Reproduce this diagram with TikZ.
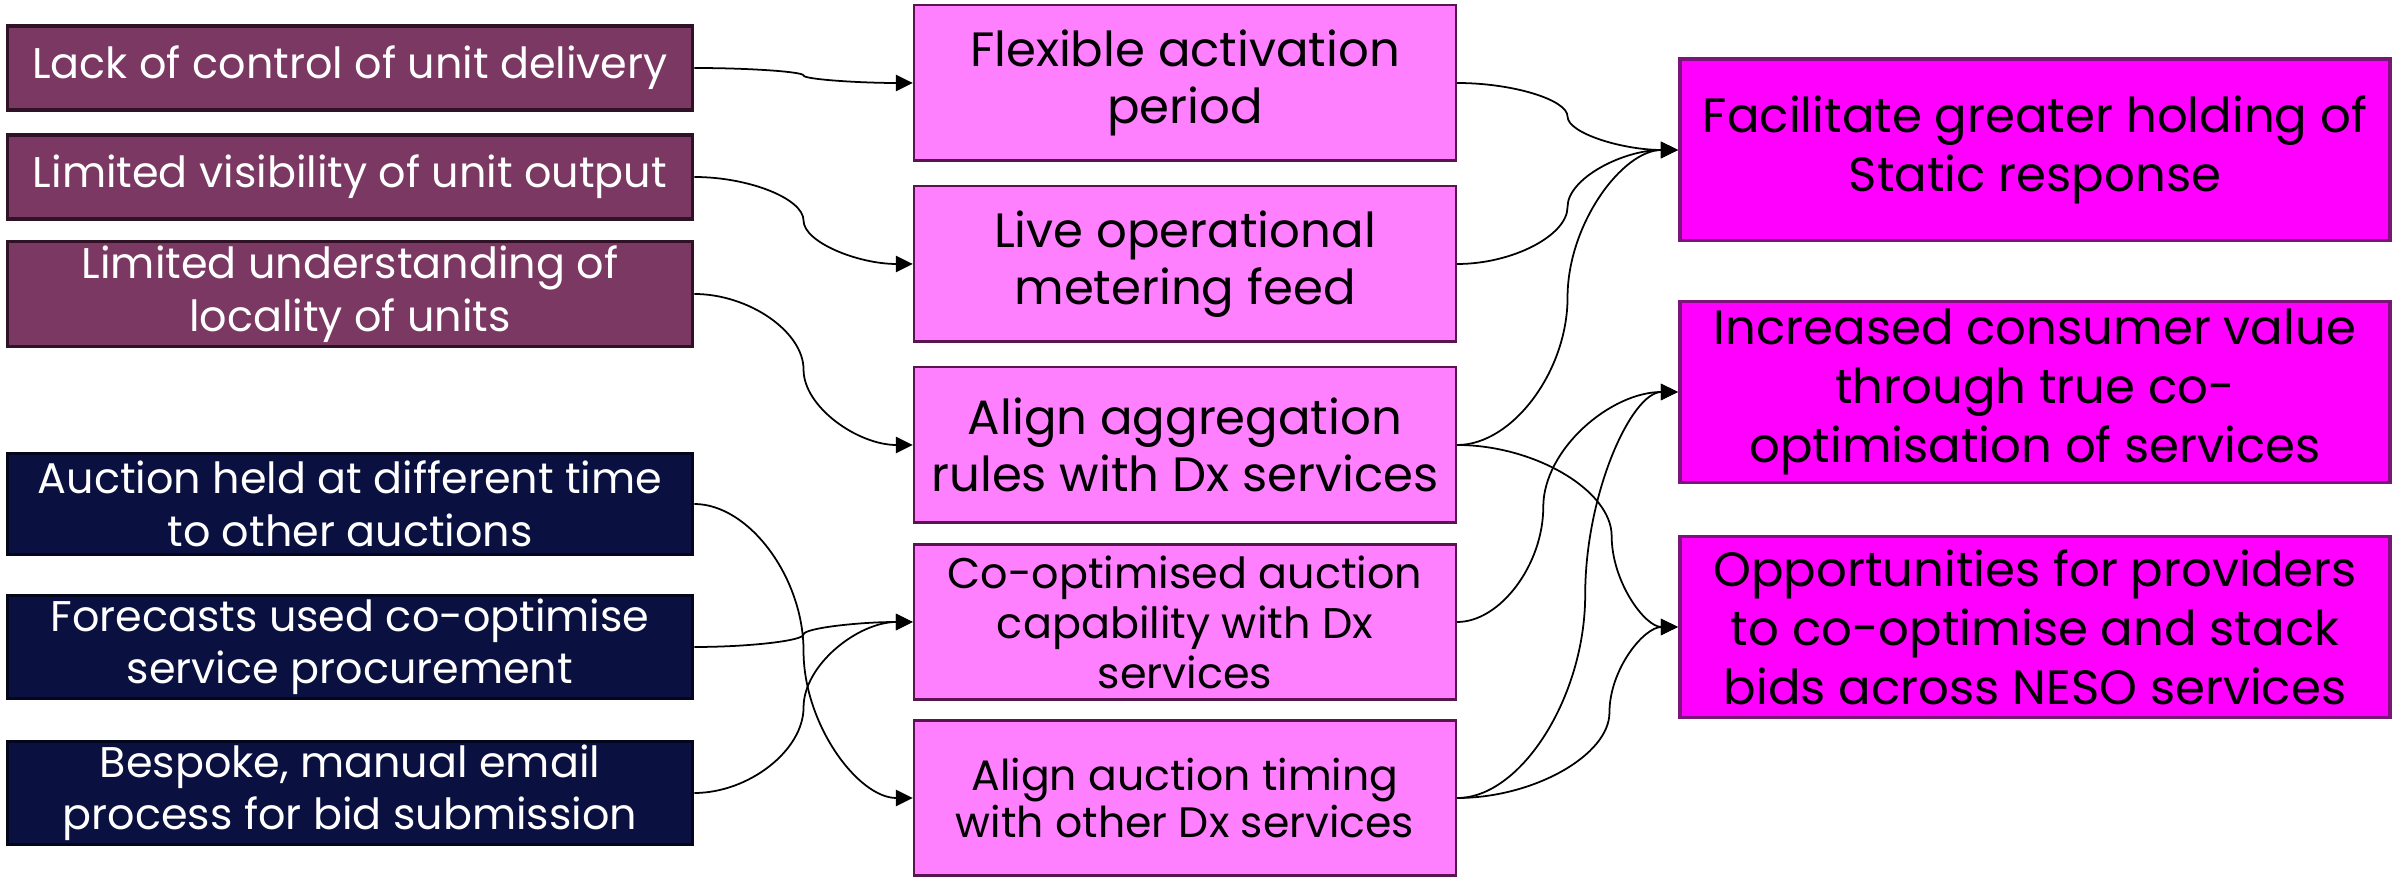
\documentclass[tikz,border=0pt]{standalone}
\usepackage{fontspec}
\setmainfont{Poppins}
\usetikzlibrary{arrows.meta,calc}

\definecolor{plum}{RGB}{123,56,98}
\definecolor{plumedge}{RGB}{48,18,38}
\definecolor{inkblue}{RGB}{10,16,64}
\definecolor{inkedge}{RGB}{4,6,28}
\definecolor{pinkbox}{RGB}{255,128,255}
\definecolor{pinkedge}{RGB}{90,20,80}
\definecolor{magbox}{RGB}{255,0,255}
\definecolor{magedge}{RGB}{122,22,122}

\tikzset{
  issue/.style={draw=#1, line width=0.9pt, text=white, align=center, inner sep=1pt,
    minimum width=6.85cm, font=\fontsize{12.2}{14.9}\selectfont},
  fix/.style={draw=pinkedge, line width=0.6pt, fill=pinkbox, align=center, inner sep=1pt,
    minimum width=5.42cm, minimum height=1.55cm, font=\fontsize{13.7}{16.2}\selectfont},
  gain/.style={draw=magedge, line width=1.1pt, fill=magbox, align=center, inner sep=1pt,
    minimum width=7.10cm, minimum height=1.81cm, font=\fontsize{13.7}{16.8}\selectfont},
  conn/.style={line width=0.5pt, -{Triangle[length=4.8pt,width=4.6pt]}},
  curv/.style={to path={let \p1=(\tikztostart), \p2=(\tikztotarget),
    \p3=($(\p1)!#1!(\p2)$), \p4=($(\p1)!0.5!(\p2)$) in
    .. controls ($(\p1)!0.5!(\x3,\y1)$) and (\x3,{(\y1+\y4)/2}) .. (\x3,\y4)
    .. controls (\x3,{(\y4+\y2)/2}) and ($(\x3,\y2)!0.5!(\p2)$) .. (\tikztotarget)}},
  curv/.default=0.5
}

\begin{document}
\begin{tikzpicture}[x=0.01cm,y=-0.01cm]
  \useasboundingbox (0,0) rectangle (2405,877);
  % what is lacking today
  \node[issue=plumedge, fill=plum, minimum height=0.84cm] (lack) at (350,68) {Lack of control of unit delivery};
  \node[issue=plumedge, fill=plum, minimum height=0.84cm] (vis) at (350,177) {Limited visibility of unit output};
  \node[issue=plumedge, fill=plum, minimum height=1.05cm] (loc) at (350,294) {Limited understanding of \\ locality of units};
  \node[issue=inkedge, fill=inkblue, minimum height=1.01cm] (when) at (350,504) {Auction held at different time \\ to other auctions};
  \node[issue=inkedge, fill=inkblue, minimum height=0.98cm] (fcst) at (350,647) {Forecasts used co-optimise \\ service procurement};
  \node[issue=inkedge, fill=inkblue, minimum height=1.03cm] (mail) at (350,793) {Bespoke, manual email \\ process for bid submission};
  %
  % proposed changes
  \node[fix] (flex) at (1185,83) {Flexible activation \\ period};
  \node[fix] (meter) at (1185,264) {Live operational \\ metering feed};
  \node[fix] (aggr) at (1185,445) {Align aggregation \\ rules with Dx services};
  \node[fix, font=\fontsize{12.2}{14.2}\selectfont] (coopt) at (1185,622) {Co-optimised auction \\ capability with Dx \\ services};
  \node[fix, font=\fontsize{12.1}{13.6}\selectfont] (timing) at (1185,798) {Align auction timing \\ with other Dx services};
  %
  % benefits
  \node[gain] (hold) at (2035,150) {Facilitate greater holding of \\ Static response};
  \node[gain] (value) at (2035,392) {Increased consumer value \\ through true co- \\ optimisation of services};
  \node[gain] (stack) at (2035,627) {Opportunities for providers \\ to co-optimise and stack \\ bids across NESO services};
  %
  \draw[conn] (lack.east) to[curv] (flex.west);
  \draw[conn] (vis.east) to[curv] (meter.west);
  \draw[conn] (loc.east) to[curv] (aggr.west);
  \draw[conn] (when.east) to[curv] (timing.west);
  \draw[conn] (fcst.east) to[curv] (coopt.west);
  \draw[conn] (mail.east) to[curv] (coopt.west);
  %
  \draw[conn] (flex.east) to[curv] (hold.west);
  \draw[conn] (meter.east) to[curv] (hold.west);
  \draw[conn] (aggr.east) to[curv] (hold.west);
  \draw[conn] (aggr.east) to[curv=0.70] (stack.west);
  \draw[conn] (coopt.east) to[curv=0.39] (value.west);
  \draw[conn] (timing.east) to[curv=0.58] (value.west);
  \draw[conn] (timing.east) to[curv=0.69] (stack.west);
\end{tikzpicture}
\end{document}
